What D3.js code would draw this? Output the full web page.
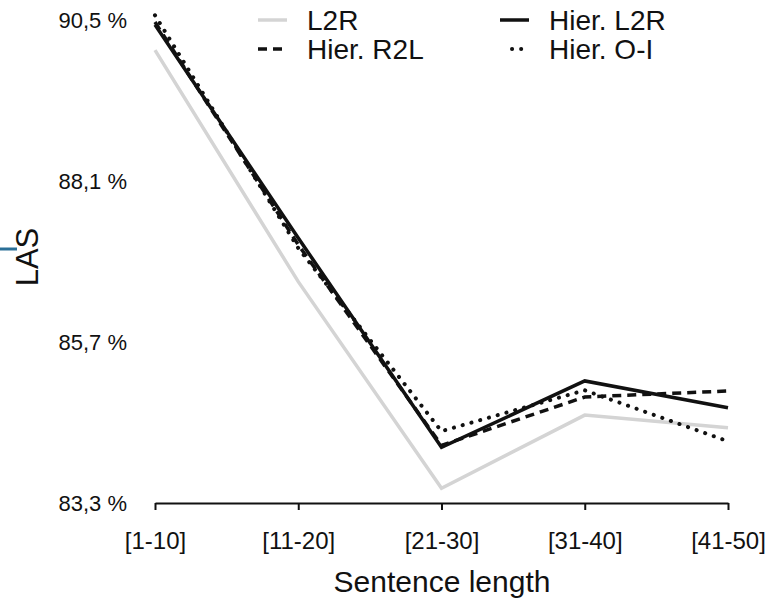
<!DOCTYPE html>
<html>
<head>
<meta charset="utf-8">
<script src="https://cdn.jsdelivr.net/npm/d3@7"></script>
<style>
  body { margin: 0; background: #fff; }
  svg text { font-family: "Liberation Sans", Arial, sans-serif; fill: #111; }
</style>
</head>
<body>
<svg id="chart" width="769" height="601"></svg>
<script>
// data
let categories = ["[1-10]", "[11-20]", "[21-30]", "[31-40]", "[41-50]"]
let l2r = [90.05, 86.6, 83.52, 84.61, 84.42]
let hierL2R = [90.43, 87.25, 84.13, 85.12, 84.72]
let hierR2L = [90.47, 87.15, 84.16, 84.88, 84.97]
let hierOI = [90.57, 87.1, 84.37, 84.98, 84.22]
let yTicks = [83.3, 85.7, 88.1, 90.5]

let svg = d3.select("#chart")

let xScale = d3.scalePoint()
    .domain(categories)
    .range([155, 728])

let yScale = d3.scaleLinear()
    .domain([83.3, 90.5])
    .range([503, 20])

// x axis
let xAxis = d3.axisBottom(xScale).tickSize(7).tickSizeOuter(0)
let xAxisGroup = svg.append("g")
    .attr("transform", "translate(0,503)")
    .call(xAxis)
xAxisGroup.select(".domain").attr("stroke", "#111").attr("stroke-width", 2)
xAxisGroup.selectAll(".tick line").attr("stroke", "#111").attr("stroke-width", 2)
xAxisGroup.selectAll(".tick text")
    .style("font-size", "24px")
    .attr("y", 38)
    .attr("dy", "0.35em")

// y axis, labels only
let yAxis = d3.axisLeft(yScale)
    .tickValues(yTicks)
    .tickSize(0)
    .tickPadding(0)
    .tickFormat(d => d3.format(".1f")(d).replace(".", ",") + " %")
let yAxisGroup = svg.append("g")
    .attr("transform", "translate(127,0)")
    .call(yAxis)
yAxisGroup.select(".domain").remove()
yAxisGroup.selectAll(".tick text").style("font-size", "22px")

// axis titles
svg.append("text")
    .attr("x", 442)
    .attr("y", 592)
    .attr("text-anchor", "middle")
    .style("font-size", "30px")
    .text("Sentence length")

svg.append("text")
    .attr("transform", "translate(38,257) rotate(-90)")
    .attr("text-anchor", "middle")
    .style("font-size", "31px")
    .text("LAS")

// small blue mark next to the y title
svg.append("line")
    .attr("x1", 0).attr("x2", 17)
    .attr("y1", 249).attr("y2", 249)
    .attr("stroke", "#2a6f97")
    .attr("stroke-width", 3)

// series
let series = [
    { name: "L2R", values: l2r, color: "#d4d4d4", dash: null, cap: "butt", width: 3.5 },
    { name: "Hier. R2L", values: hierR2L, color: "#111", dash: "9,6", cap: "butt", width: 3.5 },
    { name: "Hier. O-I", values: hierOI, color: "#111", dash: "0.1,9", cap: "round", width: 4 },
    { name: "Hier. L2R", values: hierL2R, color: "#111", dash: null, cap: "butt", width: 3.5 }
]

let line = d3.line()
    .x((d, i) => xScale(categories[i]))
    .y(d => yScale(d))

svg.selectAll(".series")
    .data(series)
    .enter()
    .append("path")
    .attr("class", "series")
    .attr("d", d => line(d.values))
    .attr("fill", "none")
    .attr("stroke", d => d.color)
    .attr("stroke-width", d => d.width)
    .attr("stroke-dasharray", d => d.dash)
    .attr("stroke-linecap", d => d.cap)
    .attr("stroke-linejoin", "miter")

// legend
let legendItems = [
    { s: series[0], x: 258, y: 20 },
    { s: series[3], x: 500, y: 20 },
    { s: series[1], x: 258, y: 49 },
    { s: series[2], x: 500, y: 49 }
]

let legend = svg.selectAll(".legend")
    .data(legendItems)
    .enter()
    .append("g")
    .attr("class", "legend")
    .attr("transform", d => "translate(" + d.x + "," + d.y + ")")

legend.append("line")
    .attr("x1", d => d.s.dash == "0.1,9" ? 12 : 0)
    .attr("x2", d => d.s.dash == "0.1,9" ? 26 : (d.s.dash ? 24 : 29))
    .attr("y1", 0).attr("y2", 0)
    .attr("stroke", d => d.s.color)
    .attr("stroke-width", d => d.s.width)
    .attr("stroke-dasharray", d => d.s.dash)
    .attr("stroke-linecap", d => d.s.cap)

legend.append("text")
    .attr("x", 49)
    .attr("dy", "0.36em")
    .style("font-size", "28px")
    .text(d => d.s.name)
</script>
</body>
</html>
